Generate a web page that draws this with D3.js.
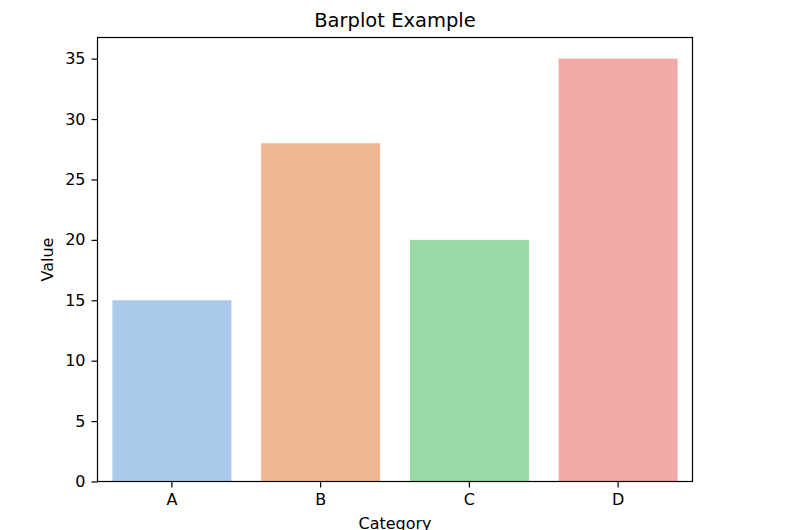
<!DOCTYPE html>
<html>
<head>
<meta charset="utf-8">
<title>Barplot Example</title>
<script src="https://cdn.jsdelivr.net/npm/d3@7"></script>
<style>
    html, body { margin: 0; padding: 0; background: #fff; }
    svg { display: block; font-family: 'DejaVu Sans', sans-serif; }
</style>
</head>
<body>
<svg id="chart" width="800" height="530"></svg>
<script>
(function (d3, undefined) {
    'use strict';

    var categories = ['A', 'B', 'C', 'D'],
    values = [15, 28, 20, 35],
    colors = ['#abc9ea', '#efb792', '#98daa7', '#f2aaa7'],
    yTicks = [0, 5, 10, 15, 20, 25, 30, 35];

    var width = 800,
    height = 530,
    margin = {top: 37.5, right: 107.5, bottom: 48.5, left: 97.5};

    var svg = d3.select('#chart');

    var x = d3.scaleBand()
        .domain(categories)
        .range([margin.left, width - margin.right])
        .paddingInner(0.2)
        .paddingOuter(0.1);

    var y = d3.scaleLinear()
        .domain([0, d3.max(values) * 1.05])
        .range([height - margin.bottom, margin.top]);

    // bars
    svg.selectAll('.bar')
        .data(values)
        .enter()
        .append('rect')
        .attr('class', 'bar')
        .attr('x', function (d, i) { return x(categories[i]); })
        .attr('width', x.bandwidth())
        .attr('y', function (d) { return y(d); })
        .attr('height', function (d) { return y(0) - y(d); })
        .style('fill', function (d, i) { return colors[i]; });

    // axes
    var xAxis = svg.append('g')
        .attr('transform', 'translate(0,' + (height - margin.bottom) + ')')
        .call(d3.axisBottom(x).tickSize(6).tickPadding(6).tickSizeOuter(0));

    var yAxis = svg.append('g')
        .attr('transform', 'translate(' + margin.left + ',0)')
        .call(d3.axisLeft(y).tickValues(yTicks).tickSize(6).tickPadding(6).tickSizeOuter(0));

    [xAxis, yAxis].forEach(function (g) {
        g.select('.domain').remove();
        g.selectAll('line').attr('stroke', '#000').attr('stroke-width', 1.2);
        g.selectAll('text')
            .attr('fill', '#000')
            .style('font-family', 'DejaVu Sans, sans-serif')
            .style('font-size', '16px');
    });

    // frame
    svg.append('rect')
        .attr('x', margin.left)
        .attr('y', margin.top)
        .attr('width', width - margin.left - margin.right)
        .attr('height', height - margin.top - margin.bottom)
        .attr('fill', 'none')
        .attr('stroke', '#000')
        .attr('stroke-width', 1.2);

    // labels
    svg.append('text')
        .attr('x', (margin.left + width - margin.right) / 2)
        .attr('y', 27)
        .attr('text-anchor', 'middle')
        .style('font-size', '19.5px')
        .text('Barplot Example');

    svg.append('text')
        .attr('x', (margin.left + width - margin.right) / 2)
        .attr('y', 529)
        .attr('text-anchor', 'middle')
        .style('font-size', '16px')
        .text('Category');

    svg.append('text')
        .attr('transform', 'translate(53,' + ((margin.top + height - margin.bottom) / 2) + ') rotate(-90)')
        .attr('text-anchor', 'middle')
        .style('font-size', '16px')
        .text('Value');
})(d3);
</script>
</body>
</html>
